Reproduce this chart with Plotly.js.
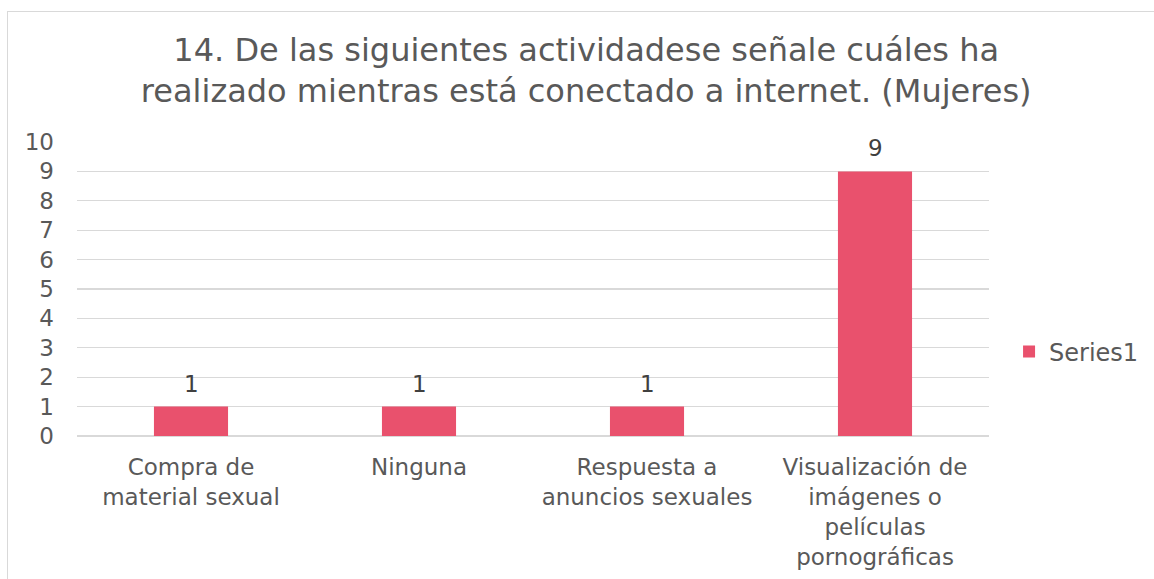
<!DOCTYPE html>
<html>
<head>
<meta charset="utf-8">
<script src="https://cdn.plot.ly/plotly-3.0.1.min.js"></script>
<style>
body{margin:0;padding:0;background:#fff;overflow:hidden;}
#chart{position:absolute;left:0;top:0;width:1154px;height:579px;}
#frame{position:absolute;left:7px;top:11px;width:1200px;height:700px;border:1px solid #d9d9d9;pointer-events:none;box-sizing:border-box;}
</style>
</head>
<body>
<div id="chart"></div>
<div id="frame"></div>
<script>
const categories = ["Compra de<br>material sexual", "Ninguna", "Respuesta a<br>anuncios sexuales", "Visualización de<br>imágenes o<br>películas<br>pornográficas"];
const values = [1, 1, 1, 9];
const seriesName = "Series1";
const yTicks = [0,1,2,3,4,5,6,7,8,9,10];
const titleText = "14. De las siguientes actividadese señale cuáles ha<br>realizado mientras está conectado a internet. (Mujeres)";

const font = "DejaVu Sans, Verdana, sans-serif";
const trace = {
  type: "bar",
  x: categories,
  y: values,
  name: seriesName,
  marker: {color: "#E9516D"},
  showlegend: true,
  hoverinfo: "none"
};
const labels = categories.map((c, i) => ({
  x: c, y: values[i], xref: "x", yref: "y",
  text: String(values[i]), showarrow: false,
  xanchor: "center", yanchor: "bottom", yshift: 8,
  font: {family: font, size: 23, color: "#404040"}
}));
const layout = {
  width: 1154, height: 579,
  margin: {l: 77, r: 165, t: 142, b: 143, autoexpand: false},
  paper_bgcolor: "#fff", plot_bgcolor: "#fff",
  font: {family: font, color: "#595959", size: 23},
  title: {text: titleText, font: {family: font, size: 32, color: "#595959"}, x: 0.508, xanchor: "center", y: 0.895, yanchor: "top"},
  bargap: 0.675,
  xaxis: {type: "category", showgrid: false, zeroline: false, showline: false, ticks: "", tickfont: {size: 23, color: "#595959"}, ticklabelstandoff: 15, automargin: false},
  yaxis: {range: [0, 10], tickvals: yTicks, showgrid: true, gridcolor: "#d9d9d9", gridwidth: 1.3, zeroline: true, zerolinecolor: "#d9d9d9", zerolinewidth: 1.3, showline: false, ticks: "", tickfont: {size: 23, color: "#595959"}, ticklabelstandoff: 22, automargin: false},
  annotations: labels,
  showlegend: true,
  legend: {xref: "container", x: 0.8744, xanchor: "left", y: 0.286, yanchor: "middle", font: {size: 24, color: "#595959"}, bgcolor: "rgba(0,0,0,0)", itemwidth: 30}
};
Plotly.newPlot("chart", [trace], layout, {staticPlot: true, displayModeBar: false});
</script>
</body>
</html>
